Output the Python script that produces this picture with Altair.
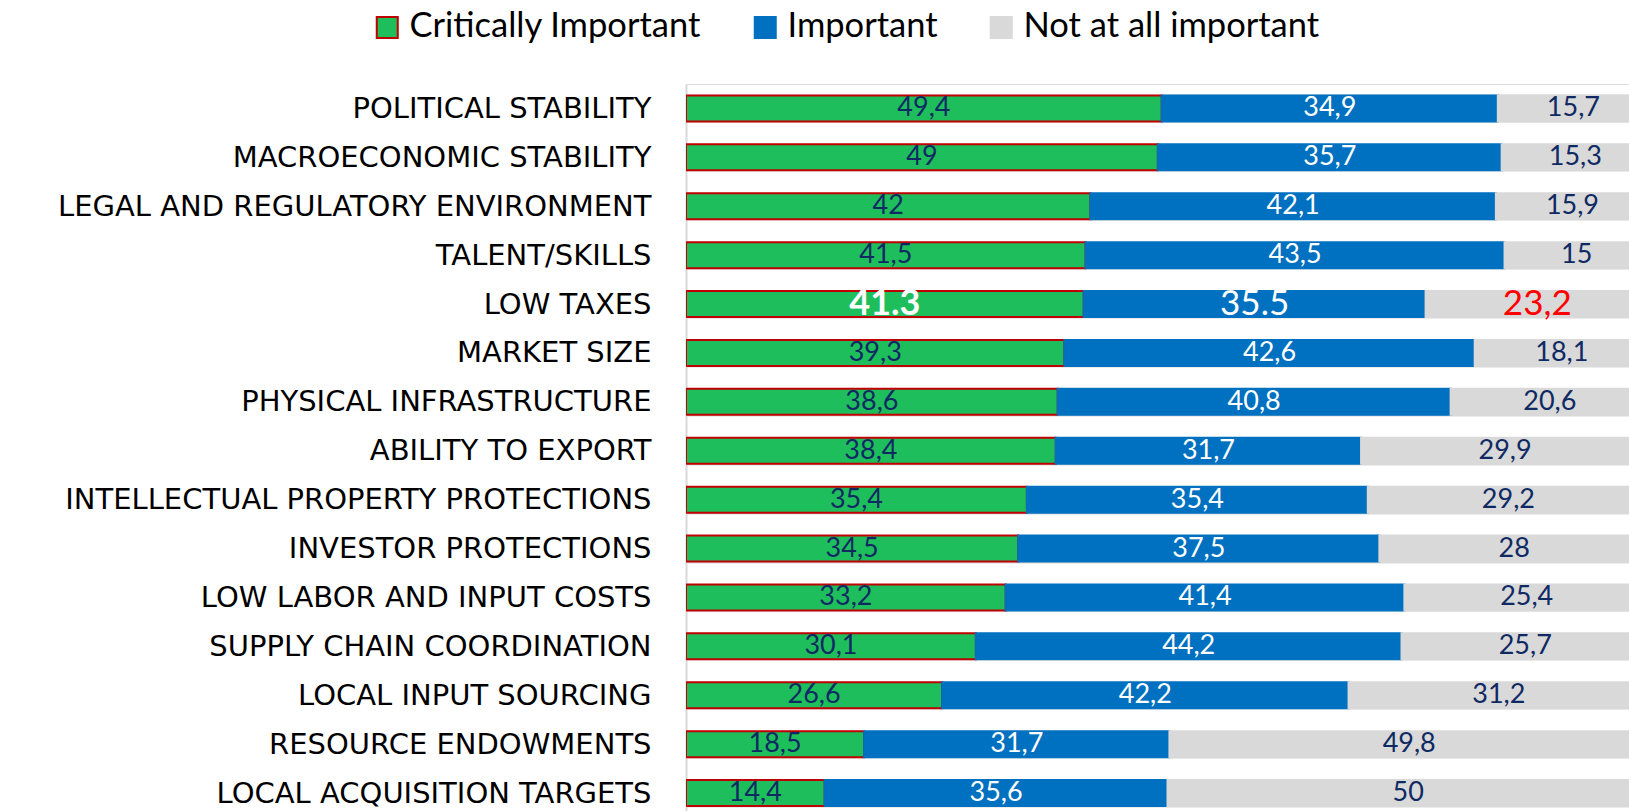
import altair as alt
import pandas as pd

categories = ["POLITICAL STABILITY", "MACROECONOMIC STABILITY", "LEGAL AND REGULATORY ENVIRONMENT",
              "TALENT/SKILLS", "LOW TAXES", "MARKET SIZE", "PHYSICAL INFRASTRUCTURE",
              "ABILITY TO EXPORT", "INTELLECTUAL PROPERTY PROTECTIONS", "INVESTOR PROTECTIONS",
              "LOW LABOR AND INPUT COSTS", "SUPPLY CHAIN COORDINATION", "LOCAL INPUT SOURCING",
              "RESOURCE ENDOWMENTS", "LOCAL ACQUISITION TARGETS"]
critically = [49.4, 49, 42, 41.5, 41.3, 39.3, 38.6, 38.4, 35.4, 34.5, 33.2, 30.1, 26.6, 18.5, 14.4]
important = [34.9, 35.7, 42.1, 43.5, 35.5, 42.6, 40.8, 31.7, 35.4, 37.5, 41.4, 44.2, 42.2, 31.7, 35.6]
not_at_all = [15.7, 15.3, 15.9, 15, 23.2, 18.1, 20.6, 29.9, 29.2, 28, 25.4, 25.7, 31.2, 49.8, 50]
series = ["Critically Important", "Important", "Not at all important"]
highlight_row = "LOW TAXES"
highlight_labels = ["41.3", "35.5", "23,2"]

fills = ["#1FBE5C", "#0070C0", "#D9D9D9"]
strokes = ["#C00000", "#0070C0", "#D9D9D9"]
label_colors = ["#0F2A63", "#FFFFFF", "#0F2A63"]
hl_colors = ["#FFFFFF", "#FFFFFF", "#FF0000"]

rows = []
for i, c in enumerate(categories):
    vals = [critically[i], important[i], not_at_all[i]]
    start = 0.0
    for k, s in enumerate(series):
        v = vals[k]
        lab = f"{v:g}".replace(".", ",")
        tc = label_colors[k]
        if c == highlight_row:
            lab = highlight_labels[k]
            tc = hl_colors[k]
        rows.append(dict(cat=c, series=s, order=k, value=v, start=start, end=start + v,
                         mid=start + v / 2, label=lab, tcolor=tc,
                         hl=(c == highlight_row), bold=(c == highlight_row and k == 0)))
        start += v
df = pd.DataFrame(rows)

xscale = alt.Scale(domain=[0, 100], range=[0, 963], nice=False)
yscale = alt.Scale(range=[0, 733.5], paddingInner=0.468, paddingOuter=0.234)

leg = alt.Legend(orient="none", legendX=-316, legendY=-74, direction="horizontal", title=None,
                 symbolType="square", symbolSize=441, symbolStrokeWidth=2,
                 labelFont="Lato", labelFontSize=34.5, labelColor="#000000",
                 labelOffset=5, columnPadding=46, labelLimit=0)

y_enc = alt.Y("cat:N", sort=categories, scale=yscale, title=None,
              axis=alt.Axis(labelFont="DejaVu Sans", labelFontSize=29, labelColor="#000000",
                            labelPadding=35, labelLimit=0, ticks=False, domain=True,
                            domainColor="#D9D9D9", domainWidth=2, grid=True,
                            gridColor="#D9D9D9", gridWidth=2, tickBand="extent"))

bars = alt.Chart(df).mark_bar(clip=True, strokeWidth=2).encode(
    x=alt.X("start:Q", scale=xscale, axis=None),
    x2="end:Q",
    y=y_enc,
    fill=alt.Fill("series:N", scale=alt.Scale(domain=series, range=fills), legend=leg),
    stroke=alt.Stroke("series:N", scale=alt.Scale(domain=series, range=strokes), legend=leg),
    order=alt.Order("order:Q"),
)

base_text = alt.Chart(df).encode(
    x=alt.X("mid:Q", scale=xscale, axis=None),
    y=alt.Y("cat:N", sort=categories, scale=yscale),
    text="label:N",
    color=alt.Color("tcolor:N", scale=None),
)

text_norm = base_text.transform_filter("!datum.hl").mark_text(
    clip=True, font="Lato", fontSize=27, baseline="middle", align="center")
text_hl = base_text.transform_filter("datum.hl && !datum.bold").mark_text(
    clip=True, font="Lato", fontSize=35, baseline="middle", align="center")
text_bold = base_text.transform_filter("datum.bold").mark_text(
    clip=True, font="Lato", fontSize=36, fontWeight="bold", baseline="middle", align="center")

chart = alt.layer(bars, text_norm, text_hl, text_bold).properties(
    width=943, height=727,
    autosize=alt.AutoSizeParams(type="none"),
    padding={"left": 686, "top": 84, "right": 0, "bottom": 0},
).configure_view(stroke=None).configure(background="white")

chart.save("out.html", embed_options={"renderer": "svg", "actions": False})
